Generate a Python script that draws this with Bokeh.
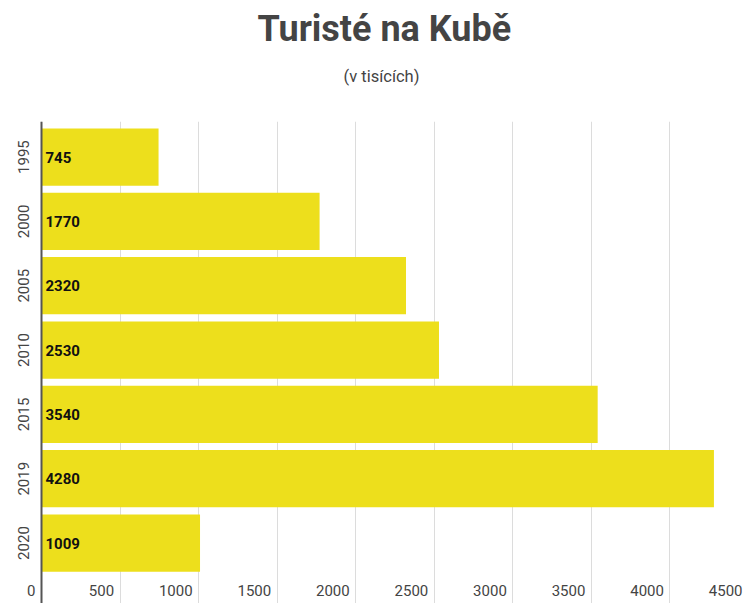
import math
from bokeh.plotting import figure
from bokeh.models import Range1d, FixedTicker, Grid, Title, ColumnDataSource, Span
from bokeh.core.properties import value
from bokeh.embed import file_html
from bokeh.resources import INLINE

years = ["1995", "2000", "2005", "2010", "2015", "2019", "2020"]
tourists = [745, 1770, 2320, 2530, 3540, 4280, 1009]
x_ticks = [0, 500, 1000, 1500, 2000, 2500, 3000, 3500, 4000, 4500]
title_text = "Turisté na Kubě"
subtitle_text = "(v tisících)"

W, H = 748, 603
left_px = 41                     # pixel space left of the value 0 (y labels live there)
units_per_px = 4500 / (W - left_px)
x_start = -left_px * units_per_px

idx = list(range(len(years)))
src = ColumnDataSource(dict(y=idx, v=tourists, lab=[str(t) for t in tourists], yr=years))

p = figure(width=W, height=H, output_backend="svg", toolbar_location=None,
           x_range=Range1d(x_start, 4500), y_range=Range1d(6.94, -0.553),
           x_axis_location=None, y_axis_location=None,
           min_border_left=0, min_border_right=0, min_border_bottom=0, min_border_top=10)
p.outline_line_color = None
p.background_fill_color = "white"
p.border_fill_color = "white"
for g in list(p.xgrid) + list(p.ygrid):
    g.visible = False

grid = Grid(dimension=0, ticker=FixedTicker(ticks=x_ticks), grid_line_color="#dcdcdc", grid_line_width=1)
p.add_layout(grid)

p.hbar(y="y", left=0, right="v", height=0.89, source=src, fill_color="#EDDF1C", line_color=None)

# value axis line at x = 0
p.add_layout(Span(location=0, dimension="height", line_color="#555555", line_width=2))

# bar value labels
p.text(x=0, y="y", text="lab", source=src, x_offset=4, text_baseline="middle",
       text_font=value("Roboto"), text_font_size="15px", text_font_style="bold", text_color="#111111")

# category (year) labels, rotated
p.text(x=0, y="y", text="yr", source=src, x_offset=-18, angle=math.pi / 2,
       text_align="center", text_baseline="middle",
       text_font=value("Roboto"), text_font_size="15px", text_color="#444444")

# x tick labels inside the frame, right-aligned next to grid lines
tick_src = ColumnDataSource(dict(x=x_ticks, t=[str(t) for t in x_ticks], y=[6.737] * len(x_ticks)))
p.text(x="x", y="y", text="t", source=tick_src, x_offset=-6, text_align="right", text_baseline="middle",
       text_font=value("Roboto"), text_font_size="15px", text_color="#444444")

p.add_layout(Title(text=" ", align="left", text_font_size="1px", standoff=23), "above")
p.add_layout(Title(text=subtitle_text, align="left", offset=343, text_font="Roboto",
                   text_font_size="16.5px", text_font_style="normal", text_color="#444444",
                   standoff=20), "above")
p.add_layout(Title(text=title_text, align="left", offset=257, text_font="Roboto",
                   text_font_size="36px", text_font_style="bold", text_color="#444444",
                   standoff=10), "above")

open("out.html", "w").write(file_html(p, INLINE))
